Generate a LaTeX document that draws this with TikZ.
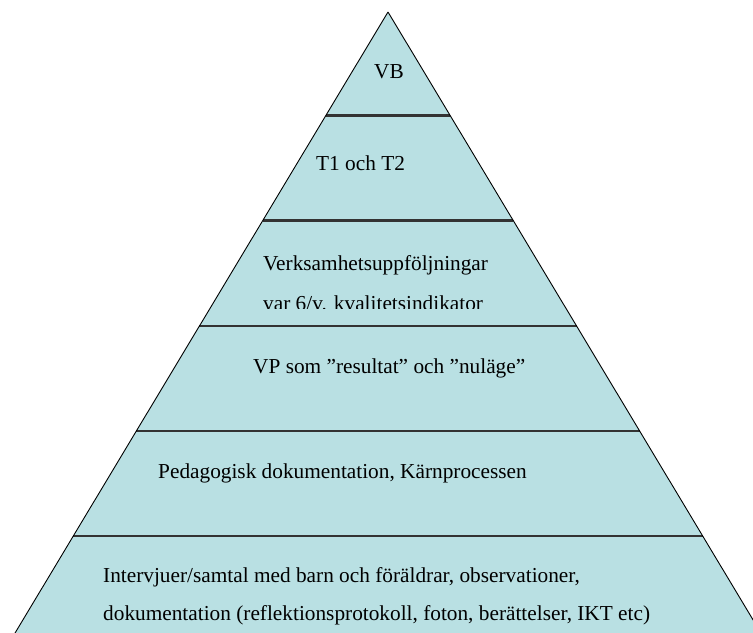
\documentclass[tikz,border=0pt]{standalone}
\usepackage{fontspec}
\setmainfont{Liberation Serif}
\definecolor{pyrfill}{RGB}{185,224,227}

\begin{document}
\begin{tikzpicture}[x=1bp, y=-1bp,
    level/.style={anchor=base west, inner sep=0pt, font=\fontsize{21.3bp}{25bp}\selectfont},
    divider/.style={line width=2.6bp, black!80}]
    \useasboundingbox (0,0) rectangle (753,633);
    \clip (0,0) rectangle (753,633);
    \coordinate (top) at (388,12);
    \fill[pyrfill] (top) -- (-32.4,712) -- (808.4,712) -- cycle;
    \foreach \yy in {115.5,220.5,326,431,536}{
        \pgfmathsetmacro{\hw}{0.6006*(\yy-12)}
        \draw[divider] (388-\hw,\yy) -- (388+\hw,\yy);
    }
    \draw[line width=0.9bp] (top) -- (-32.4,712) (top) -- (808.4,712);
    \node[level](vb) at (374,78.7) {VB};
    \node[level](tt) at (316,170.7) {T1 och T2};
    \node[level](vu) at (263,270.7) {Verksamhetsuppföljningar};
    \begin{scope}
        \clip (0,220.5) rectangle (753,308);
        \node[level](kv) at (263,310.5) {var 6/v. kvalitetsindikator};
    \end{scope}
    \node[level](vp) at (253,373.3) {VP som ”resultat” och ”nuläge”};
    \node[level](pd) at (158,478.3) {Pedagogisk dokumentation, Kärnprocessen};
    \node[level](iv) at (103,582.7) {Intervjuer/samtal med barn och föräldrar, observationer,};
    \node[level](dk) at (103,620.7) {dokumentation (reflektionsprotokoll, foton, berättelser, IKT etc)};
\end{tikzpicture}
\end{document}
